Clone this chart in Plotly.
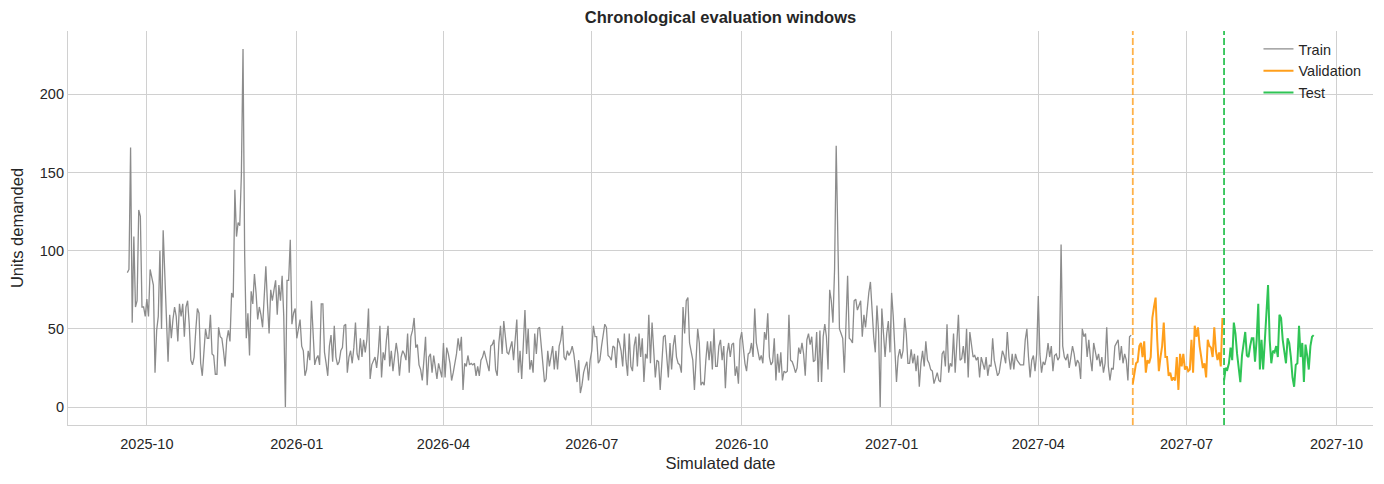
import pandas as pd
import plotly.graph_objects as go

# daily demand
start_date = "2025-09-19"

train_units = [
    86, 88, 166, 54, 109, 64, 68, 126, 122, 64,
    64, 58, 69, 58, 88, 83, 78, 22, 49, 58,
    100, 50, 113, 85, 49, 29, 59, 44, 56, 64,
    58, 42, 66, 58, 66, 45, 64, 68, 53, 30,
    27, 32, 49, 63, 60, 28, 20, 39, 50, 44,
    44, 59, 34, 33, 21, 21, 51,
    45, 44, 36, 26, 43, 49, 42, 73, 70, 139,
    109, 118, 116, 149, 229, 98, 44, 60, 33, 74,
    66, 85, 73, 56, 64, 59, 51, 68, 90, 66,
    47, 75, 68, 75, 81, 59, 78, 68, 84, 58,
    0, 81, 81, 107, 53, 60, 63, 44, 49, 56,
    39, 36, 20, 24, 36, 30, 68, 42, 27, 31,
    33, 27, 66, 66, 35,
    28, 20, 39, 46, 29, 52, 32, 27, 29, 36,
    38, 52, 53, 22, 32, 36, 28, 38, 54, 34,
    30, 44, 32, 43, 35, 43, 63, 18, 27, 30,
    32, 25, 35, 52, 19, 35, 30, 43, 52, 26,
    36, 23, 32, 41, 34, 20, 32, 36, 34, 30,
    47, 22, 45, 49, 57, 38, 40, 27, 24, 17,
    30, 45, 14, 32, 34, 22, 33, 24, 18, 28,
    24, 19, 41, 19, 38, 34, 28, 17, 22, 28,
    34, 44, 36, 45, 11, 28, 26, 33, 27, 28,
    27, 28, 20, 26, 20, 30, 32, 36, 31, 28,
    23, 39, 40, 43, 24, 20, 41, 52, 34, 55,
    43, 35, 34, 39, 42, 30, 43, 56, 22, 36,
    18, 36, 62, 34, 50, 24, 30, 22, 47, 34,
    50, 51, 39, 26, 16, 18, 36, 26, 32, 39,
    24, 36, 24, 39, 43, 52, 32, 30, 36, 33,
    35, 39, 34, 24, 16, 30, 9, 14, 22, 26,
    29, 17, 30, 36, 52, 45, 45, 28, 30, 39,
    47, 53, 51, 33, 32, 30, 39, 38, 25, 44,
    41, 36, 26, 47, 30, 20, 47, 26, 23, 39,
    45, 26, 47, 32, 44, 16, 34, 31, 59, 28,
    54, 36, 19, 30, 29, 11, 26, 45, 46, 34,
    19, 41, 24, 39, 46, 32, 28, 27, 22, 64,
    47, 68, 70, 41, 36, 30, 11, 34, 50, 41,
    14, 16, 14, 30, 42, 30, 42, 24, 50, 26,
    26, 39,
    43, 30, 39, 12, 34, 41, 32, 40, 41, 20,
    26, 15, 43, 48, 36, 28, 23, 34, 35, 41,
    32, 63, 41, 34, 30, 33, 28, 48, 43, 60,
    32, 27, 29, 44, 17, 34, 22, 35, 17, 23,
    22, 23, 59, 30, 29, 26, 22, 25, 38, 34,
    41, 34, 20, 43, 47, 40, 45, 29, 30, 48,
    16,
    49, 16, 45, 53, 45, 24, 75, 68, 54, 88,
    167, 92, 50, 47, 44, 22, 58, 84, 44, 43,
    41, 68, 69, 62, 65, 68, 45, 59, 51, 64,
    73, 80, 62, 45, 35, 65, 48, 0, 63, 46,
    32, 47, 55, 35, 73, 58, 32, 16, 32, 37,
    31, 36, 57, 47, 28, 28, 37, 28, 34, 23,
    33,
    13, 28, 36, 26, 42, 30, 28, 24, 23, 15,
    18, 22, 17, 16, 34, 36, 26, 53, 22, 28,
    26, 47, 22, 43, 59, 30, 31, 39, 28, 50,
    19, 48, 39, 32, 33, 30, 32, 19, 32, 28,
    24, 32, 20, 27, 26, 44, 30, 25, 20, 22,
    30, 36, 33, 28, 48, 32, 24, 34, 24, 34,
    30, 28, 27,
    27, 27, 43, 50, 32, 19, 30, 33, 23, 34,
    71, 34, 22, 29, 27, 32, 41, 32, 39, 23,
    33, 34, 30, 32, 104, 39, 32, 30, 34, 25,
    32, 39, 34, 26, 30, 28, 18, 50, 45, 47,
    32, 43, 31, 23, 41, 34, 30, 34, 26, 32,
    22, 28, 51, 26, 17, 25, 24, 39, 41,
    43, 30, 39, 28, 34, 30, 17, 45, 46,
]

validation_units = [
    15, 22, 28, 29, 39, 41, 32, 42, 22, 30,
    28, 32, 57, 64, 70, 43, 23, 32, 39, 54,
    32, 32, 20, 22, 17, 19, 17, 32, 11, 34,
    26, 34, 24, 26, 23, 24, 43, 22, 52, 45,
    51, 39, 32, 25, 28, 19, 43, 39, 38, 32,
    51, 36, 30, 35, 26, 57,
]

test_units = [
    17, 25, 24, 28, 38, 30, 54, 47, 34, 24,
    16, 33, 41, 48, 33, 32, 39, 44, 44, 29,
    43, 66, 24, 43, 24, 45, 66, 78, 43, 28,
    36, 35, 39, 32, 59, 57, 43, 35, 28, 44,
    41, 32, 19, 13, 27, 28, 52, 32, 41, 16,
    40, 33, 24, 39, 45, 46,
]

all_dates = pd.date_range(start_date, periods=len(train_units) + len(validation_units) + len(test_units), freq="D")
n_tr = len(train_units)
n_va = len(validation_units)
train_dates = all_dates[:n_tr]
val_dates = all_dates[n_tr:n_tr + n_va]
test_dates = all_dates[n_tr + n_va:]

ORANGE = "#ff9f1c"
GREEN = "#2fc455"
GRAY = "#8c8c8c"
GRID = "#d0d0d0"

fig = go.Figure()
fig.add_trace(go.Scatter(x=train_dates, y=train_units, mode="lines", name="Train",
                         line=dict(color=GRAY, width=1.3)))
fig.add_trace(go.Scatter(x=val_dates, y=validation_units, mode="lines", name="Validation",
                         line=dict(color=ORANGE, width=2)))
fig.add_trace(go.Scatter(x=test_dates, y=test_units, mode="lines", name="Test",
                         line=dict(color=GREEN, width=2)))

# split markers
fig.add_vline(x=val_dates[0], line=dict(color=ORANGE, width=1.8, dash="7px,3px"), opacity=0.8)
fig.add_vline(x=test_dates[0], line=dict(color=GREEN, width=1.8, dash="7px,3px"))

fig.update_layout(
    width=1384, height=484,
    margin=dict(l=68, r=11, t=31, b=59, autoexpand=False),
    paper_bgcolor="white",
    plot_bgcolor="white",
    font=dict(family="Liberation Sans, Arial, sans-serif", size=14, color="#262626"),
    title=dict(text="<b>Chronological evaluation windows</b>", x=0.5, xanchor="center",
               xref="paper", yref="container", y=1 - 17 / 484, yanchor="middle",
               font=dict(size=16.5, color="#262626")),
    showlegend=True,
    legend=dict(x=0.995, y=0.995, xanchor="right", yanchor="top", bgcolor="rgba(255,255,255,0)",
                borderwidth=0, font=dict(size=14.5), itemwidth=30, tracegroupgap=0),
    xaxis=dict(
        title=dict(text="Simulated date", font=dict(size=16.5), standoff=6),
        type="date", automargin=False,
        range=[all_dates[0] - pd.Timedelta(days=36.4), all_dates[-1] + pd.Timedelta(days=36.4)],
        tick0="2025-10-01", dtick="M3", tickformat="%Y-%m",
        showgrid=True, gridcolor=GRID, gridwidth=1,
        showline=True, linecolor=GRID, linewidth=1.2,
        ticks="outside", ticklen=5, tickcolor="rgba(0,0,0,0)",
        zeroline=False, tickfont=dict(size=14.5),
    ),
    yaxis=dict(
        title=dict(text="Units demanded", font=dict(size=16.5), standoff=12),
        range=[-11.45, 240.45], automargin=False,
        tickvals=[0, 50, 100, 150, 200],
        showgrid=True, gridcolor=GRID, gridwidth=1,
        showline=True, linecolor=GRID, linewidth=1.2,
        ticks="", zeroline=False, tickfont=dict(size=14.5),
    ),
)

fig.write_html("out.html", config={"displayModeBar": False},
               post_script="document.body.style.margin='0';")
